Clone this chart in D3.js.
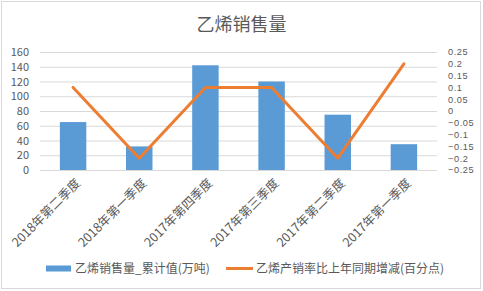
<!DOCTYPE html>
<html>
<head>
<meta charset="utf-8">
<script src="https://cdn.jsdelivr.net/npm/d3@7"></script>
<style>
  html, body { margin: 0; padding: 0; background: #fff; }
  svg { display: block; font-family: "Noto Sans CJK SC", "Noto Sans", sans-serif; }
</style>
</head>
<body>
<svg id="chart" width="483" height="291"></svg>
<script>
// Quarterly ethylene sales and YoY change in sales rate
const categories = ["2018年第二季度", "2018年第一季度", "2017年第四季度", "2017年第三季度", "2017年第二季度", "2017年第一季度"];
const salesVolume = [65, 32, 142, 120, 75, 35];          // 万吨
const rateChange = [0.1, -0.2, 0.1, 0.1, -0.2, 0.2];      // 百分点
const leftTicks = [0, 20, 40, 60, 80, 100, 120, 140, 160];
const rightTicks = [-0.25, -0.2, -0.15, -0.1, -0.05, 0, 0.05, 0.1, 0.15, 0.2, 0.25];
const title = "乙烯销售量";
const seriesNames = ["乙烯销售量_累计值(万吨)", "乙烯产销率比上年同期增减(百分点)"];

const W = 483, H = 291;
const plot = { left: 40, right: 437, top: 52, bottom: 170 };
const textColor = "#595959";
const gridColor = "#d9d9d9";
const barColor = "#5b9bd5";
const lineColor = "#ed7d31";

const svg = d3.select("#chart");

// chart frame
svg.append("rect")
  .attr("x", 1.5).attr("y", 1.5)
  .attr("width", W - 4).attr("height", H - 4)
  .attr("fill", "#fff").attr("stroke", gridColor);

const x = d3.scaleBand().domain(categories).range([plot.left, plot.right]).paddingInner(0.6).paddingOuter(0.3);
const xPoint = d3.scalePoint().domain(categories).range([plot.left, plot.right]).padding(0.5);
const yL = d3.scaleLinear().domain([0, 160]).range([plot.bottom, plot.top]);
const yR = d3.scaleLinear().domain([-0.25, 0.25]).range([plot.bottom, plot.top]);

// title
svg.append("text")
  .attr("x", W / 2).attr("y", 31)
  .attr("text-anchor", "middle")
  .attr("font-size", 18)
  .attr("fill", textColor)
  .text(title);

// horizontal gridlines
svg.append("g")
  .selectAll("line")
  .data(leftTicks)
  .join("line")
  .attr("x1", plot.left).attr("x2", plot.right)
  .attr("y1", d => yL(d) + 0.5).attr("y2", d => yL(d) + 0.5)
  .attr("stroke", gridColor).attr("stroke-width", 1);

// left axis
const leftAxis = svg.append("g")
  .attr("transform", `translate(${plot.left - 11},0)`)
  .call(d3.axisLeft(yL).tickValues(leftTicks).tickSize(0).tickPadding(0));
leftAxis.select(".domain").remove();
leftAxis.selectAll("text").attr("font-size", 11).attr("fill", textColor)
  .attr("font-family", "'Noto Sans CJK SC', sans-serif");

// right axis (ticks are tightly packed, so a compact face is used)
const rightAxis = svg.append("g")
  .attr("transform", `translate(${plot.right + 11},0)`)
  .call(d3.axisRight(yR).tickValues(rightTicks).tickSize(0).tickPadding(0).tickFormat(d => d3.format("")(+d.toFixed(2))));
rightAxis.select(".domain").remove();
rightAxis.selectAll("text").attr("font-size", 9.2).attr("fill", textColor)
  .attr("letter-spacing", 0.6)
  .attr("font-family", "'Liberation Sans', Arial, sans-serif");

// bars
svg.append("g")
  .selectAll("rect")
  .data(categories.map((c, i) => ({ c, v: salesVolume[i] })))
  .join("rect")
  .attr("x", d => x(d.c))
  .attr("width", x.bandwidth())
  .attr("y", d => yL(d.v))
  .attr("height", d => yL(0) - yL(d.v))
  .attr("fill", barColor);

// line
const line = d3.line()
  .x((d, i) => xPoint(categories[i]))
  .y(d => yR(d));
svg.append("path")
  .datum(rateChange)
  .attr("d", line)
  .attr("fill", "none")
  .attr("stroke", lineColor)
  .attr("stroke-width", 3)
  .attr("stroke-linejoin", "round")
  .attr("stroke-linecap", "round");

// category labels, rotated
svg.append("g")
  .selectAll("text")
  .data(categories)
  .join("text")
  .attr("transform", d => `translate(${xPoint(d) + 8},${plot.bottom + 14}) rotate(-45)`)
  .attr("text-anchor", "end")
  .attr("font-size", 12.5)
  .attr("fill", textColor)
  .text(d => d);

// legend
const legend = svg.append("g");
legend.append("rect")
  .attr("x", 46).attr("y", 265.5).attr("width", 25).attr("height", 6)
  .attr("fill", barColor);
legend.append("text")
  .attr("x", 75).attr("y", 272.5)
  .attr("font-size", 12).attr("fill", textColor)
  .text(seriesNames[0]);
legend.append("line")
  .attr("x1", 226).attr("x2", 253).attr("y1", 268.5).attr("y2", 268.5)
  .attr("stroke", lineColor).attr("stroke-width", 3);
legend.append("text")
  .attr("x", 256).attr("y", 272.5)
  .attr("font-size", 12).attr("fill", textColor)
  .text(seriesNames[1]);
</script>
</body>
</html>
